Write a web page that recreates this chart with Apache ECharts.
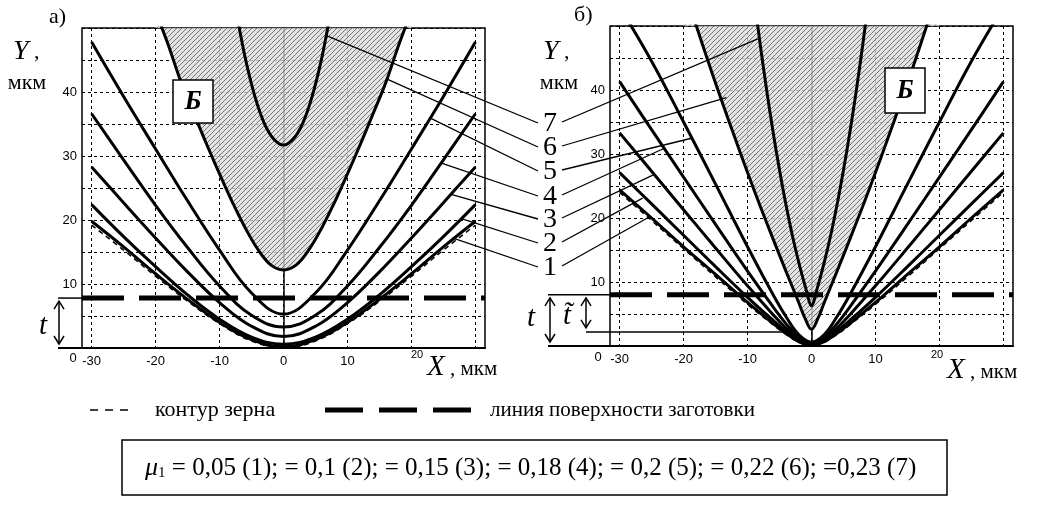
<!DOCTYPE html>
<html lang="ru">
<head>
<meta charset="UTF-8">
<title>Профили</title>
<script src="https://cdn.jsdelivr.net/npm/echarts@6/dist/echarts.min.js"></script>
</head>
<body style="margin:0;background:#fff">
<div id="chart" style="width:1042px;height:508px;"></div>
<script>
// ---- data (X, Y in мкм) ----
// chart а)
const xA = [-30, -25, -20, -15, -10, -5, 0, 5, 10, 15, 20, 25, 30];
const a1 = [19.8, 15.8, 11.6, 7.6, 4.0, 1.3, 0.2, 1.3, 4.0, 7.6, 11.6, 15.8, 19.8];
const a2 = [22.4, 17.4, 12.7, 8.3, 4.5, 1.7, 0.6, 1.7, 4.5, 8.3, 12.7, 17.4, 22.4];
const a3 = [28.3, 22.7, 17.2, 11.9, 7.1, 3.4, 1.8, 3.4, 7.1, 11.9, 17.2, 22.7, 28.3];
const a4 = [36.6, 29.4, 22.3, 15.7, 9.7, 5.1, 3.3, 5.1, 9.7, 15.7, 22.3, 29.4, 36.6];
const a5 = [47.8, 39.3, 31.1, 23.0, 15.3, 8.6, 5.3, 8.6, 15.3, 23.0, 31.1, 39.3, 47.8];
const grainA = [19.2, 15.3, 11.2, 7.3, 3.8, 1.1, 0, 1.1, 3.8, 7.3, 11.2, 15.3, 19.2];
const xA6 = [-20, -18, -16, -14, -12, -10, -8, -6, -4, -2, 0, 2, 4, 6, 8, 10, 12, 14, 16, 18, 20];
const a6 = [52.6, 47.3, 41.5, 36.6, 31.8, 27.2, 22.8, 18.8, 15.4, 13.0, 12.2, 13.0, 15.4, 18.8, 22.8, 27.2, 31.8, 36.6, 41.5, 47.3, 52.6];
const xA7 = [-7.5, -6, -4.5, -3, -1.5, 0, 1.5, 3, 4.5, 6, 7.5];
const a7 = [53.2, 45.4, 39.4, 35.1, 32.6, 31.7, 32.6, 35.1, 39.4, 45.4, 53.2];
const surfA = 7.8;

// chart б)
const xB = [-30, -25, -20, -15, -10, -6, -4, -2, 0, 2, 4, 6, 10, 15, 20, 25, 30];
const b1 = [24.4, 20.0, 15.5, 11.2, 6.8, 3.5, 2.0, 0.7, 0.2, 0.7, 2.0, 3.5, 6.8, 11.2, 15.5, 20.0, 24.4];
const b2 = [27.1, 22.2, 17.3, 12.4, 7.6, 4.0, 2.3, 0.9, 0.3, 0.9, 2.3, 4.0, 7.6, 12.4, 17.3, 22.2, 27.1];
const b3 = [33.3, 27.3, 21.3, 15.3, 9.4, 4.9, 2.8, 1.1, 0.4, 1.1, 2.8, 4.9, 9.4, 15.3, 21.3, 27.3, 33.3];
const b4 = [41.3, 33.8, 26.4, 19.0, 11.7, 6.1, 3.5, 1.4, 0.5, 1.4, 3.5, 6.1, 11.7, 19.0, 26.4, 33.8, 41.3];
const b5 = [53.0, 44.5, 35.0, 25.3, 15.5, 8.0, 4.6, 1.8, 0.6, 1.8, 4.6, 8.0, 15.5, 25.3, 35.0, 44.5, 53.0];
const grainB = [24.0, 19.6, 15.2, 10.8, 6.5, 3.3, 1.8, 0.6, 0, 0.6, 1.8, 3.3, 6.5, 10.8, 15.2, 19.6, 24.0];
const xB6 = [-20, -18, -16, -14, -12, -10, -8, -6, -4, -2, -1, 0, 1, 2, 4, 6, 8, 10, 12, 14, 16, 18, 20];
const b6 = [56.1, 50.0, 44.0, 38.2, 32.6, 27.1, 21.8, 16.7, 11.7, 6.8, 4.3, 2.6, 4.3, 6.8, 11.7, 16.7, 21.8, 27.1, 32.6, 38.2, 44.0, 50.0, 56.1];
const xB7 = [-9, -8, -7, -6, -5, -4, -3, -2, -1, 0, 1, 2, 3, 4, 5, 6, 7, 8, 9];
const b7 = [54.6, 47.0, 39.9, 33.4, 27.5, 22.1, 17.3, 13.1, 9.4, 6.3, 9.4, 13.1, 17.3, 22.1, 27.5, 33.4, 39.9, 47.0, 54.6];
const surfB = 8.0;
const tTildeB = 2.2;

// callouts 7..1 : anchor points on curves of а) and б)
const calloutNames = ['7', '6', '5', '4', '3', '2', '1'];
const anchorsA = [[6.7, 48.8], [16.2, 42], [22.8, 36], [24.7, 28.9], [26.2, 24], [27.8, 20.2], [26.4, 17.2]];
const anchorsB = [[-8.4, 48], [-13.3, 38.8], [-18.6, 32.5], [-23, 30.9], [-24.8, 26.7], [-26.4, 23.1], [-25.3, 20.2]];

const xTickValues = [-30, -20, -10, 0, 10, 20, 30];
const xLabelValues = [-30, -20, -10, 0, 10];
const muText = ' = 0,05 (1); = 0,1 (2); = 0,15 (3); = 0,18 (4); = 0,2 (5); = 0,22 (6); =0,23 (7)';

const FS = '"Liberation Serif","DejaVu Serif",serif';
const FA = '"Liberation Sans",Arial,sans-serif';

function hatch() {
    const c = document.createElement('canvas');
    c.width = 5; c.height = 5;
    const g = c.getContext('2d');
    g.fillStyle = 'rgba(220,220,220,0.8)';
    g.fillRect(0, 0, 5, 5);
    g.strokeStyle = 'rgba(105,105,105,0.9)';
    g.lineWidth = 1;
    g.beginPath();
    g.moveTo(0, 5); g.lineTo(5, 0);
    g.moveTo(-1, 1); g.lineTo(1, -1);
    g.moveTo(4, 6); g.lineTo(6, 4);
    g.stroke();
    return c;
}

function curve(grid, xs, ys, extra) {
    return Object.assign({
        type: 'line', xAxisIndex: grid, yAxisIndex: grid,
        data: xs.map((x, i) => [x, ys[i]]),
        symbol: 'none', smooth: 0.4, silent: true,
        lineStyle: { color: '#000', width: 3 }
    }, extra || {});
}

function panelSeries(g, xs, c1, c2, c3, c4, c5, grain, x6, c6, x7, c7, surf) {
    return [
        curve(g, x6, c6, { areaStyle: { origin: 'end', color: { image: hatch(), repeat: 'repeat' }, opacity: 1 } }),
        curve(g, x7, c7, { smooth: 0.3 }),
        curve(g, xs, c5), curve(g, xs, c4), curve(g, xs, c3), curve(g, xs, c2), curve(g, xs, c1),
        curve(g, xs, grain, { lineStyle: { color: '#000', width: 1.5, type: [5, 4] } }),
        curve(g, [-31.5, 31.5], [surf, surf], { smooth: false, lineStyle: { color: '#000', width: 5, type: [42, 15] } })
    ];
}

function xAx(g) {
    return {
        type: 'value', gridIndex: g, min: -31.5, max: 31.5,
        axisLine: { show: true, lineStyle: { color: '#000', width: 2 } },
        axisTick: { show: false, customValues: xTickValues },
        axisLabel: { customValues: xLabelValues, color: '#000', fontFamily: FA, fontSize: 13, margin: 7 },
        splitLine: { show: true, lineStyle: { color: '#000', width: 1, type: [3, 3] } }
    };
}
function yAx(g) {
    return {
        type: 'value', gridIndex: g, min: 0, max: 50, interval: 5,
        axisLine: { show: true, lineStyle: { color: '#000', width: 1.5 } },
        axisTick: { show: false },
        axisLabel: {
            color: '#000', fontFamily: FA, fontSize: 13, margin: 5,
            formatter: v => (v % 10 === 0 && v > 0 && v < 50) ? String(v) : ''
        },
        splitLine: { show: true, lineStyle: { color: '#000', width: 1, type: [3, 3] } }
    };
}

const chart = echarts.init(document.getElementById('chart'), null, { renderer: 'canvas' });
const option = {
    animation: false,
    backgroundColor: '#fff',
    grid: [
        { left: 82, top: 28, width: 403, height: 320, show: true, borderColor: '#000', borderWidth: 1.5, backgroundColor: 'transparent' },
        { left: 610, top: 26, width: 403, height: 320, show: true, borderColor: '#000', borderWidth: 1.5, backgroundColor: 'transparent' }
    ],
    xAxis: [xAx(0), xAx(1)],
    yAxis: [yAx(0), yAx(1)],
    series: [].concat(
        panelSeries(0, xA, a1, a2, a3, a4, a5, grainA, xA6, a6, xA7, a7, surfA),
        panelSeries(1, xB, b1, b2, b3, b4, b5, grainB, xB6, b6, xB7, b7, surfB)
    )
};
chart.setOption(option);

// ---- annotations ----
const pa = p => chart.convertToPixel({ gridIndex: 0 }, p);
const pb = p => chart.convertToPixel({ gridIndex: 1 }, p);
const K = '#000';

function text(x, y, t, font, align, extra) {
    return { type: 'text', z: 50, style: Object.assign({ x, y, text: t, font, fill: K, textAlign: align || 'left', textVerticalAlign: 'middle' }, extra || {}) };
}
function line(x1, y1, x2, y2, w, dash) {
    return { type: 'line', z: 50, shape: { x1, y1, x2, y2 }, style: { stroke: K, lineWidth: w || 1.3, lineDash: dash || null } };
}
function arrow(x, y1, y2) {
    return [
        line(x, y1, x, y2, 1.5),
        { type: 'polyline', z: 50, shape: { points: [[x - 5, y1 + 8], [x, y1], [x + 5, y1 + 8]] }, style: { stroke: K, lineWidth: 1.5, fill: null } },
        { type: 'polyline', z: 50, shape: { points: [[x - 5, y2 - 8], [x, y2], [x + 5, y2 - 8]] }, style: { stroke: K, lineWidth: 1.5, fill: null } }
    ];
}
function bLabel(x, y, w, h) {
    return [
        { type: 'rect', z: 50, shape: { x, y, width: w, height: h }, style: { fill: '#fff', stroke: K, lineWidth: 1.5 } },
        text(x + w / 2, y + h / 2 + 1, 'Б', 'italic bold 27px ' + FS, 'center')
    ];
}
function axisTitles(yx, yy, mx, my, xx, xy, tx) {
    return [
        text(yx, yy, '{i|Y}{n| ,}', '', 'left', { rich: { i: { font: 'italic 28px ' + FS }, n: { font: '22px ' + FS } } }),
        text(mx, my, 'мкм', '22px ' + FS, 'center'),
        text(tx, 355, '20', '11px ' + FA, 'center'),
        text(xx, xy, '{i|X}{n| , мкм}', '', 'left', { rich: { i: { font: 'italic 29px ' + FS }, n: { font: '21px ' + FS, padding: [4, 0, 0, 0] } } })
    ];
}

const sA = pa([0, surfA]), zA = pa([-31.5, 0]);
const sB = pb([0, surfB]), zB = pb([-31.5, 0]), ttB = pb([-3.9, tTildeB]);

let gfx = [];
gfx.push(text(49, 17, 'а)', '22px ' + FS));
gfx.push(text(574, 15, 'б)', '22px ' + FS));
gfx = gfx.concat(axisTitles(13, 52, 27, 83, 427, 367, 417));
gfx = gfx.concat(axisTitles(543, 52, 559, 83, 947, 370, 937));
gfx.push(text(73, 358, '0', '13px ' + FA, 'center'));
gfx.push(text(598, 357, '0', '13px ' + FA, 'center'));
gfx = gfx.concat(bLabel(173, 80, 40, 43), bLabel(885, 68, 40, 45));

// t markers
gfx.push(line(58, sA[1], zA[0], sA[1], 1.5), line(58, zA[1], zA[0], zA[1], 2));
gfx = gfx.concat(arrow(59, sA[1] + 3, zA[1] - 4));
gfx.push(text(43, 326, 't', 'italic 29px ' + FS, 'center'));
gfx.push(line(548, sB[1], zB[0], sB[1], 1.5), line(548, zB[1], zB[0], zB[1], 2));
gfx.push(line(586, ttB[1], ttB[0], ttB[1], 1.5));
gfx = gfx.concat(arrow(550, sB[1] + 3, zB[1] - 4), arrow(586, sB[1] + 3, ttB[1] - 4));
gfx.push(text(531, 318, 't', 'italic 29px ' + FS, 'center'));
gfx.push(text(567, 316, 't\u0303', 'italic 29px ' + FS, 'center'));

// callouts
const calloutY = [123, 147, 171, 196, 219, 243, 267];
calloutNames.forEach((n, i) => {
    const p = pa(anchorsA[i]);
    const q = pb(anchorsB[i]);
    gfx.push(line(p[0], p[1], 538, calloutY[i]));
    gfx.push(line(562, calloutY[i] - 1, q[0], q[1]));
    gfx.push(text(550, calloutY[i] + 1, n, '28px ' + FS, 'center'));
});

// legend
gfx.push(line(90, 410, 135, 410, 1.5, [8, 7]));
gfx.push(text(155, 410, 'контур зерна', '22px ' + FS));
gfx.push(line(325, 410, 471, 410, 5, [38, 16]));
gfx.push(text(490, 410, 'линия поверхности заготовки', '21px ' + FS));
gfx.push({ type: 'rect', z: 50, shape: { x: 122, y: 440, width: 825, height: 55 }, style: { fill: null, stroke: K, lineWidth: 1.5 } });
gfx.push(text(145, 468, '{m|μ}{s|1}{t|' + muText + '}', '', 'left', {
    rich: { m: { font: 'italic 26px ' + FS }, s: { font: '15px ' + FS, padding: [10, 0, 0, 0] }, t: { font: '25px ' + FS } }
}));

chart.setOption({ graphic: gfx });
</script>
</body>
</html>
